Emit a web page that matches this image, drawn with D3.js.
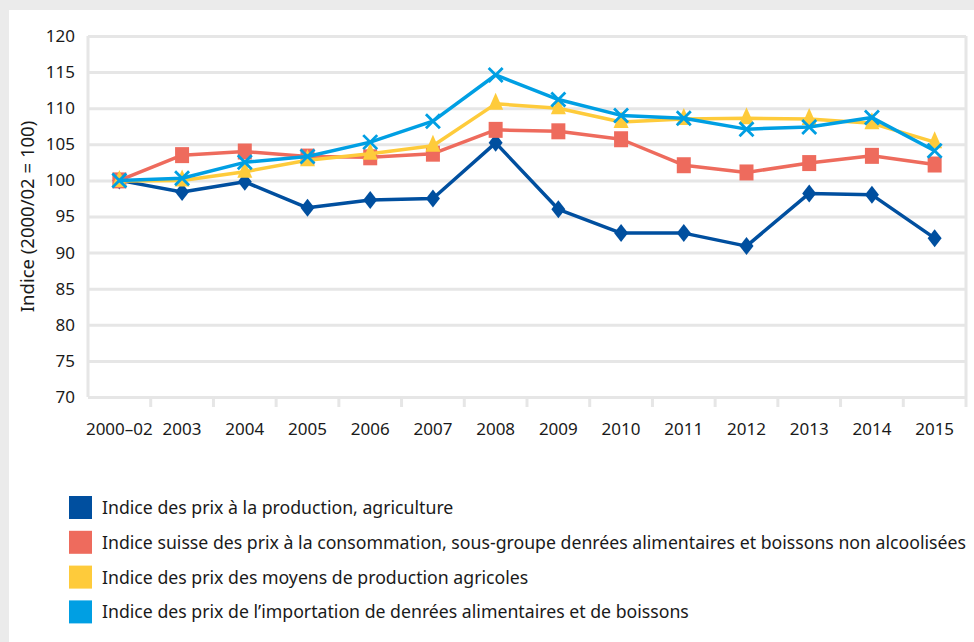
<!DOCTYPE html>
<html>
  <head>
    <style>
      html,
      body { margin: 0; background: #ebebeb; }
      svg { display: block; }
      text { font-family: "Noto Sans", sans-serif; fill: #1a1a1a; }
    </style>
    <script src="https://d3js.org/d3.v7.js"></script>
  </head>
  <body>
    <svg class="chart"></svg>

    <script>
      const width = 974;
      const height = 642;

      // data
      const categories = ['2000–02', '2003', '2004', '2005', '2006', '2007', '2008',
        '2009', '2010', '2011', '2012', '2013', '2014', '2015'];

      const producerPrices = [100, 98.4, 99.8, 96.2, 97.3, 97.5, 105.2,
        96.0, 92.7, 92.7, 90.9, 98.2, 98.0, 92.0];
      const consumerPrices = [100, 103.5, 104.0, 103.3, 103.2, 103.7, 107.0,
        106.8, 105.7, 102.1, 101.1, 102.4, 103.4, 102.2];
      const inputPrices = [99.9, 100.0, 101.2, 102.8, 103.7, 104.8, 110.6,
        110.0, 108.1, 108.5, 108.6, 108.5, 107.9, 105.3];
      const importPrices = [100, 100.3, 102.5, 103.3, 105.3, 108.2, 114.6,
        111.2, 109.0, 108.6, 107.1, 107.4, 108.7, 104.1];

      const seriesNames = [
        'Indice des prix à la production, agriculture',
        'Indice suisse des prix à la consommation, sous-groupe denrées alimentaires et boissons non alcoolisées',
        'Indice des prix des moyens de production agricoles',
        'Indice des prix de l’importation de denrées alimentaires et de boissons'
      ];
      const seriesColors = ['#004f9f', '#ee6b5d', '#fecb3b', '#009fe3'];
      const seriesSymbols = ['diamond', 'square', 'triangle', 'cross'];
      const yTicks = [70, 75, 80, 85, 90, 95, 100, 105, 110, 115, 120];

      const series = [producerPrices, consumerPrices, inputPrices, importPrices]
        .map((values, i) => ({
          name: seriesNames[i],
          color: seriesColors[i],
          symbol: seriesSymbols[i],
          values: values
        }));

      const plot = { left: 88, right: 966, top: 36, bottom: 397 };
      const gridColor = '#e6e6e6';

      const svg = d3.select('svg')
        .attr('width', width)
        .attr('height', height);

      // white panel on grey background
      svg.append('rect')
        .attr('x', 9)
        .attr('y', 10)
        .attr('width', width - 9)
        .attr('height', height - 10)
        .attr('fill', '#ffffff');

      const x = d3.scaleBand()
        .domain(categories)
        .range([plot.left, plot.right]);

      const y = d3.scaleLinear()
        .domain([70, 120])
        .range([plot.bottom, plot.top]);

      // horizontal gridlines + y labels
      const yAxis = svg.append('g')
        .attr('transform', `translate(${plot.left},0)`)
        .call(d3.axisLeft(y).tickValues(yTicks).tickSize(-(plot.right - plot.left)).tickPadding(13));
      yAxis.select('.domain').remove();
      yAxis.selectAll('line').attr('stroke', gridColor).attr('stroke-width', 3);
      yAxis.selectAll('text')
        .style('font-size', '17px')
        .attr('fill', '#1a1a1a');

      // plot frame sides
      svg.append('line')
        .attr('x1', plot.left).attr('x2', plot.left)
        .attr('y1', plot.top).attr('y2', plot.bottom)
        .attr('stroke', gridColor).attr('stroke-width', 3);
      svg.append('line')
        .attr('x1', plot.right).attr('x2', plot.right)
        .attr('y1', plot.top).attr('y2', plot.bottom)
        .attr('stroke', gridColor).attr('stroke-width', 3);

      // x tick marks sit between categories
      svg.append('g')
        .selectAll('line')
        .data(categories)
        .join('line')
        .attr('x1', (d) => x(d) + x.bandwidth())
        .attr('x2', (d) => x(d) + x.bandwidth())
        .attr('y1', plot.bottom)
        .attr('y2', plot.bottom + 10)
        .attr('stroke', gridColor)
        .attr('stroke-width', 3);

      svg.append('g')
        .selectAll('text')
        .data(categories)
        .join('text')
        .attr('x', (d) => x(d) + x.bandwidth() / 2)
        .attr('y', 435)
        .attr('text-anchor', 'middle')
        .style('font-size', '17px')
        .text((d) => d);

      svg.append('text')
        .attr('transform', `translate(34,${(plot.top + plot.bottom) / 2}) rotate(-90)`)
        .attr('text-anchor', 'middle')
        .style('font-size', '18.5px')
        .text('Indice (2000/02 = 100)');

      const cx = (i) => x(categories[i]) + x.bandwidth() / 2;

      const line = d3.line()
        .x((d, i) => cx(i))
        .y((d) => y(d));

      // marker shapes, a bit taller than wide like in the reference
      const shapes = {
        diamond: { draw(c) { c.moveTo(0, -9); c.lineTo(7, 0); c.lineTo(0, 9); c.lineTo(-7, 0); c.closePath(); } },
        square: { draw(c) { c.rect(-7, -8, 14, 16); } },
        triangle: { draw(c) { c.moveTo(0, -11); c.lineTo(7.5, 6); c.lineTo(-7.5, 6); c.closePath(); } },
        cross: { draw(c) { c.moveTo(-7, -7); c.lineTo(7, 7); c.moveTo(7, -7); c.lineTo(-7, 7); } }
      };

      const groups = svg.append('g')
        .selectAll('g')
        .data(series)
        .join('g');

      groups.append('path')
        .attr('d', (d) => line(d.values))
        .attr('fill', 'none')
        .attr('stroke', (d) => d.color)
        .attr('stroke-width', 3.5)
        .attr('stroke-linejoin', 'round');

      groups.each(function (s) {
        d3.select(this)
          .selectAll('path.marker')
          .data(s.values)
          .join('path')
          .attr('class', 'marker')
          .attr('transform', (d, i) => `translate(${cx(i)},${y(d)})`)
          .attr('d', d3.symbol(shapes[s.symbol])())
          .attr('fill', s.symbol === 'cross' ? 'none' : s.color)
          .attr('stroke', s.color)
          .attr('stroke-width', s.symbol === 'cross' ? 2.8 : 0);
      });

      // legend
      const legend = svg.append('g')
        .selectAll('g')
        .data(series)
        .join('g')
        .attr('transform', (d, i) => `translate(69,${496 + i * 34.8})`);

      legend.append('rect')
        .attr('width', 23)
        .attr('height', 23)
        .attr('fill', (d) => d.color);

      legend.append('text')
        .attr('x', 33)
        .attr('y', 18)
        .style('font-size', '17.7px')
        .text((d) => d.name);
    </script>
  </body>
</html>
